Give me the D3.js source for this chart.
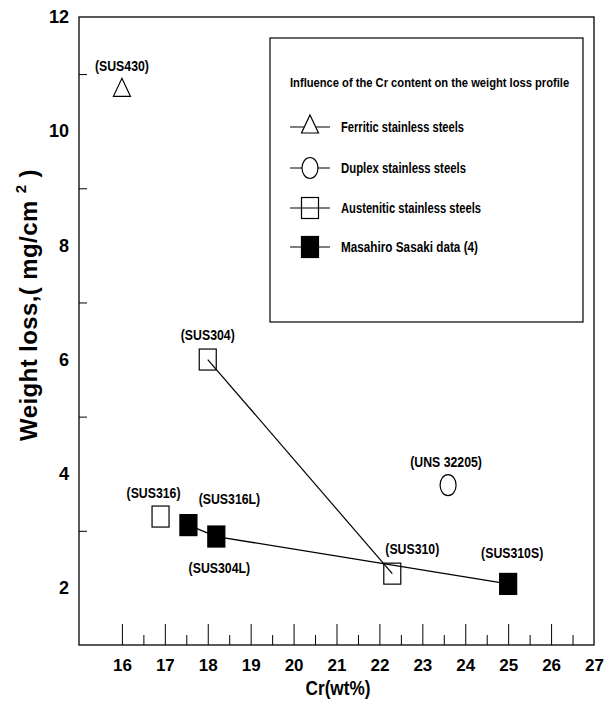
<!DOCTYPE html>
<html>
<head>
<meta charset="utf-8">
<script src="https://cdn.jsdelivr.net/npm/d3@7"></script>
<style>
body{margin:0;background:#fff}
svg{display:block}
text{font-family:"Liberation Sans",Arial,sans-serif}
</style>
</head>
<body>
<svg id="chart" width="606" height="704"></svg>
<script>
// values
var ferriticCr = [16.0]
var ferriticLoss = [10.75]
var ferriticNames = ["(SUS430)"]

var duplexCr = [23.6]
var duplexLoss = [3.8]
var duplexNames = ["(UNS 32205)"]

var austeniticCr = [18.0, 16.9, 22.3]
var austeniticLoss = [6.0, 3.25, 2.25]
var austeniticNames = ["(SUS304)", "(SUS316)", "(SUS310)"]
var austeniticLinked = ["(SUS304)", "(SUS310)"]

var sasakiCr = [17.55, 18.2, 25.0]
var sasakiLoss = [3.1, 2.9, 2.07]
var sasakiNames = ["(SUS316L)", "(SUS304L)", "(SUS310S)"]

var xTickLabels = [16, 17, 18, 19, 20, 21, 22, 23, 24, 25, 26, 27]
var yTickLabels = [2, 4, 6, 8, 10, 12]
var legendTitle = "Influence of the Cr content on the weight loss profile"
var legendNames = ["Ferritic stainless steels", "Duplex stainless steels", "Austenitic stainless steels", "Masahiro Sasaki data (4)"]

var svg = d3.select("#chart")
var pLeft = 79, pRight = 594, pTop = 17, pBottom = 645

var x = d3.scaleLinear().domain([15, 27]).range([pLeft, pRight])
var y = d3.scaleLinear().domain([1, 12]).range([pBottom, pTop])

// squeeze a text horizontally (the figure uses a narrow face)
function narrowText(g, tx, ty, s, str) {
    return g.append("text").attr("transform", "translate(" + tx + "," + ty + ") scale(" + s + ",1)").text(str)
}

// frame
svg.append("rect").attr("x", pLeft).attr("y", pTop).attr("width", pRight - pLeft).attr("height", pBottom - pTop)
    .attr("fill", "none").attr("stroke", "#000").attr("stroke-width", 1.3)

// x axis: long ticks at integers, short at halves, all pointing inward
var xMinor = d3.range(16.5, 27, 1)
svg.append("g").attr("transform", "translate(0," + pBottom + ")")
    .call(d3.axisBottom(x).tickValues(xMinor).tickSize(-10).tickFormat(""))
    .call(function (g) { g.select(".domain").remove() })
svg.append("g").attr("transform", "translate(0," + pBottom + ")")
    .call(d3.axisBottom(x).tickValues(xTickLabels.slice(0, -1)).tickSize(-21).tickFormat(""))
    .call(function (g) { g.select(".domain").remove() })
svg.append("g").attr("transform", "translate(0," + pBottom + ")")
    .call(d3.axisBottom(x).tickValues(xTickLabels).tickSize(0).tickPadding(14))
    .call(function (g) {
        g.select(".domain").remove()
        g.selectAll("text").attr("font-size", "17px").attr("font-weight", "bold").attr("fill", "#000")
    })

// y axis: labels at even values, short inward ticks at odd values
svg.append("g").attr("transform", "translate(" + pLeft + ",0)")
    .call(d3.axisLeft(y).tickValues([3, 5, 7, 9, 11]).tickSize(-8).tickFormat(""))
    .call(function (g) { g.select(".domain").remove() })
svg.append("g").attr("transform", "translate(" + pLeft + ",0)")
    .call(d3.axisLeft(y).tickValues(yTickLabels).tickSize(0).tickPadding(10))
    .call(function (g) {
        g.select(".domain").remove()
        g.selectAll("text").attr("font-size", "18px").attr("font-weight", "bold").attr("fill", "#000")
    })

// axis titles
var yt = svg.append("text").attr("transform", "translate(37,305) rotate(-90)")
    .attr("text-anchor", "middle").attr("font-size", "24px").attr("font-weight", "bold")
    .attr("letter-spacing", "0.4px")
yt.append("tspan").text("Weight loss,( mg/cm ")
yt.append("tspan").text("2").attr("font-size", "15px").attr("dy", -11)
yt.append("tspan").text(" )").attr("dy", 11)

narrowText(svg, 338, 695, 0.82, "Cr(wt%)").attr("text-anchor", "middle").attr("font-size", "21px").attr("font-weight", "bold")

// connecting lines
var line = d3.line().x(function (d) { return x(d[0]) }).y(function (d) { return y(d[1]) })
var austPts = austeniticNames.map(function (n, i) { return [austeniticCr[i], austeniticLoss[i], n] })
    .filter(function (d) { return austeniticLinked.indexOf(d[2]) >= 0 })
var sasPts = sasakiCr.map(function (c, i) { return [c, sasakiLoss[i]] })
svg.append("path").attr("d", line(austPts)).attr("fill", "none").attr("stroke", "#000").attr("stroke-width", 1.2)
svg.append("path").attr("d", line(sasPts)).attr("fill", "none").attr("stroke", "#000").attr("stroke-width", 1.3)

// marker helpers
function triangle(g, cx, cy) {
    g.append("path").attr("d", "M" + cx + "," + (cy - 10) + "L" + (cx + 8.5) + "," + (cy + 8) + "L" + (cx - 8.5) + "," + (cy + 8) + "Z")
        .attr("fill", "#fff").attr("stroke", "#000").attr("stroke-width", 1.2)
}
function ellipse(g, cx, cy) {
    g.append("ellipse").attr("cx", cx).attr("cy", cy).attr("rx", 8).attr("ry", 10.5)
        .attr("fill", "#fff").attr("stroke", "#000").attr("stroke-width", 1.2)
}
function box(g, cx, cy, filled) {
    g.append("rect").attr("x", cx - 8.5).attr("y", cy - 10.5).attr("width", 17).attr("height", 21)
        .attr("fill", filled ? "#000" : "none").attr("stroke", "#000").attr("stroke-width", 1.2)
}

var pts = svg.append("g")
ferriticCr.forEach(function (c, i) { triangle(pts, x(c), y(ferriticLoss[i])) })
duplexCr.forEach(function (c, i) { ellipse(pts, x(c), y(duplexLoss[i])) })
austeniticCr.forEach(function (c, i) { box(pts, x(c), y(austeniticLoss[i]), false) })
sasakiCr.forEach(function (c, i) { box(pts, x(c), y(sasakiLoss[i]), true) })

// point labels
var labelShift = {
    "(SUS430)": [0, -17], "(SUS304)": [0, -20], "(SUS316)": [-7, -19], "(SUS310)": [20, -20],
    "(UNS 32205)": [-2, -18], "(SUS316L)": [41, -21], "(SUS304L)": [3, 36], "(SUS310S)": [4, -26]
}
var labelRows = []
ferriticCr.forEach(function (c, i) { labelRows.push([c, ferriticLoss[i], ferriticNames[i]]) })
duplexCr.forEach(function (c, i) { labelRows.push([c, duplexLoss[i], duplexNames[i]]) })
austeniticCr.forEach(function (c, i) { labelRows.push([c, austeniticLoss[i], austeniticNames[i]]) })
sasakiCr.forEach(function (c, i) { labelRows.push([c, sasakiLoss[i], sasakiNames[i]]) })

var lbl = svg.append("g")
labelRows.forEach(function (d) {
    narrowText(lbl, x(d[0]) + labelShift[d[2]][0], y(d[1]) + labelShift[d[2]][1], 0.82, d[2])
        .attr("text-anchor", "middle").attr("font-size", "15px").attr("font-weight", "bold")
})

// legend
var lg = svg.append("g")
lg.append("rect").attr("x", 270).attr("y", 38).attr("width", 313).attr("height", 284)
    .attr("fill", "#fff").attr("stroke", "#000").attr("stroke-width", 1.2)
narrowText(lg, 290, 87, 0.86, legendTitle).attr("font-size", "13px").attr("font-weight", "bold")
var rowY = [127, 168, 208, 247]
var rowLen = [123, 125, 140, 137]
legendNames.forEach(function (n, i) {
    lg.append("line").attr("x1", 290).attr("x2", 330).attr("y1", rowY[i]).attr("y2", rowY[i]).attr("stroke", "#000").attr("stroke-width", 1.1)
    if (i === 0) triangle(lg, 310, rowY[i] - 2)
    if (i === 1) ellipse(lg, 310, rowY[i])
    if (i === 2) box(lg, 310, rowY[i], false)
    if (i === 3) box(lg, 310, rowY[i], true)
    lg.append("text").attr("x", 341).attr("y", rowY[i] + 5).attr("font-size", "15px").attr("font-weight", "bold")
        .attr("textLength", rowLen[i]).attr("lengthAdjust", "spacingAndGlyphs").text(n)
})
</script>
</body>
</html>
